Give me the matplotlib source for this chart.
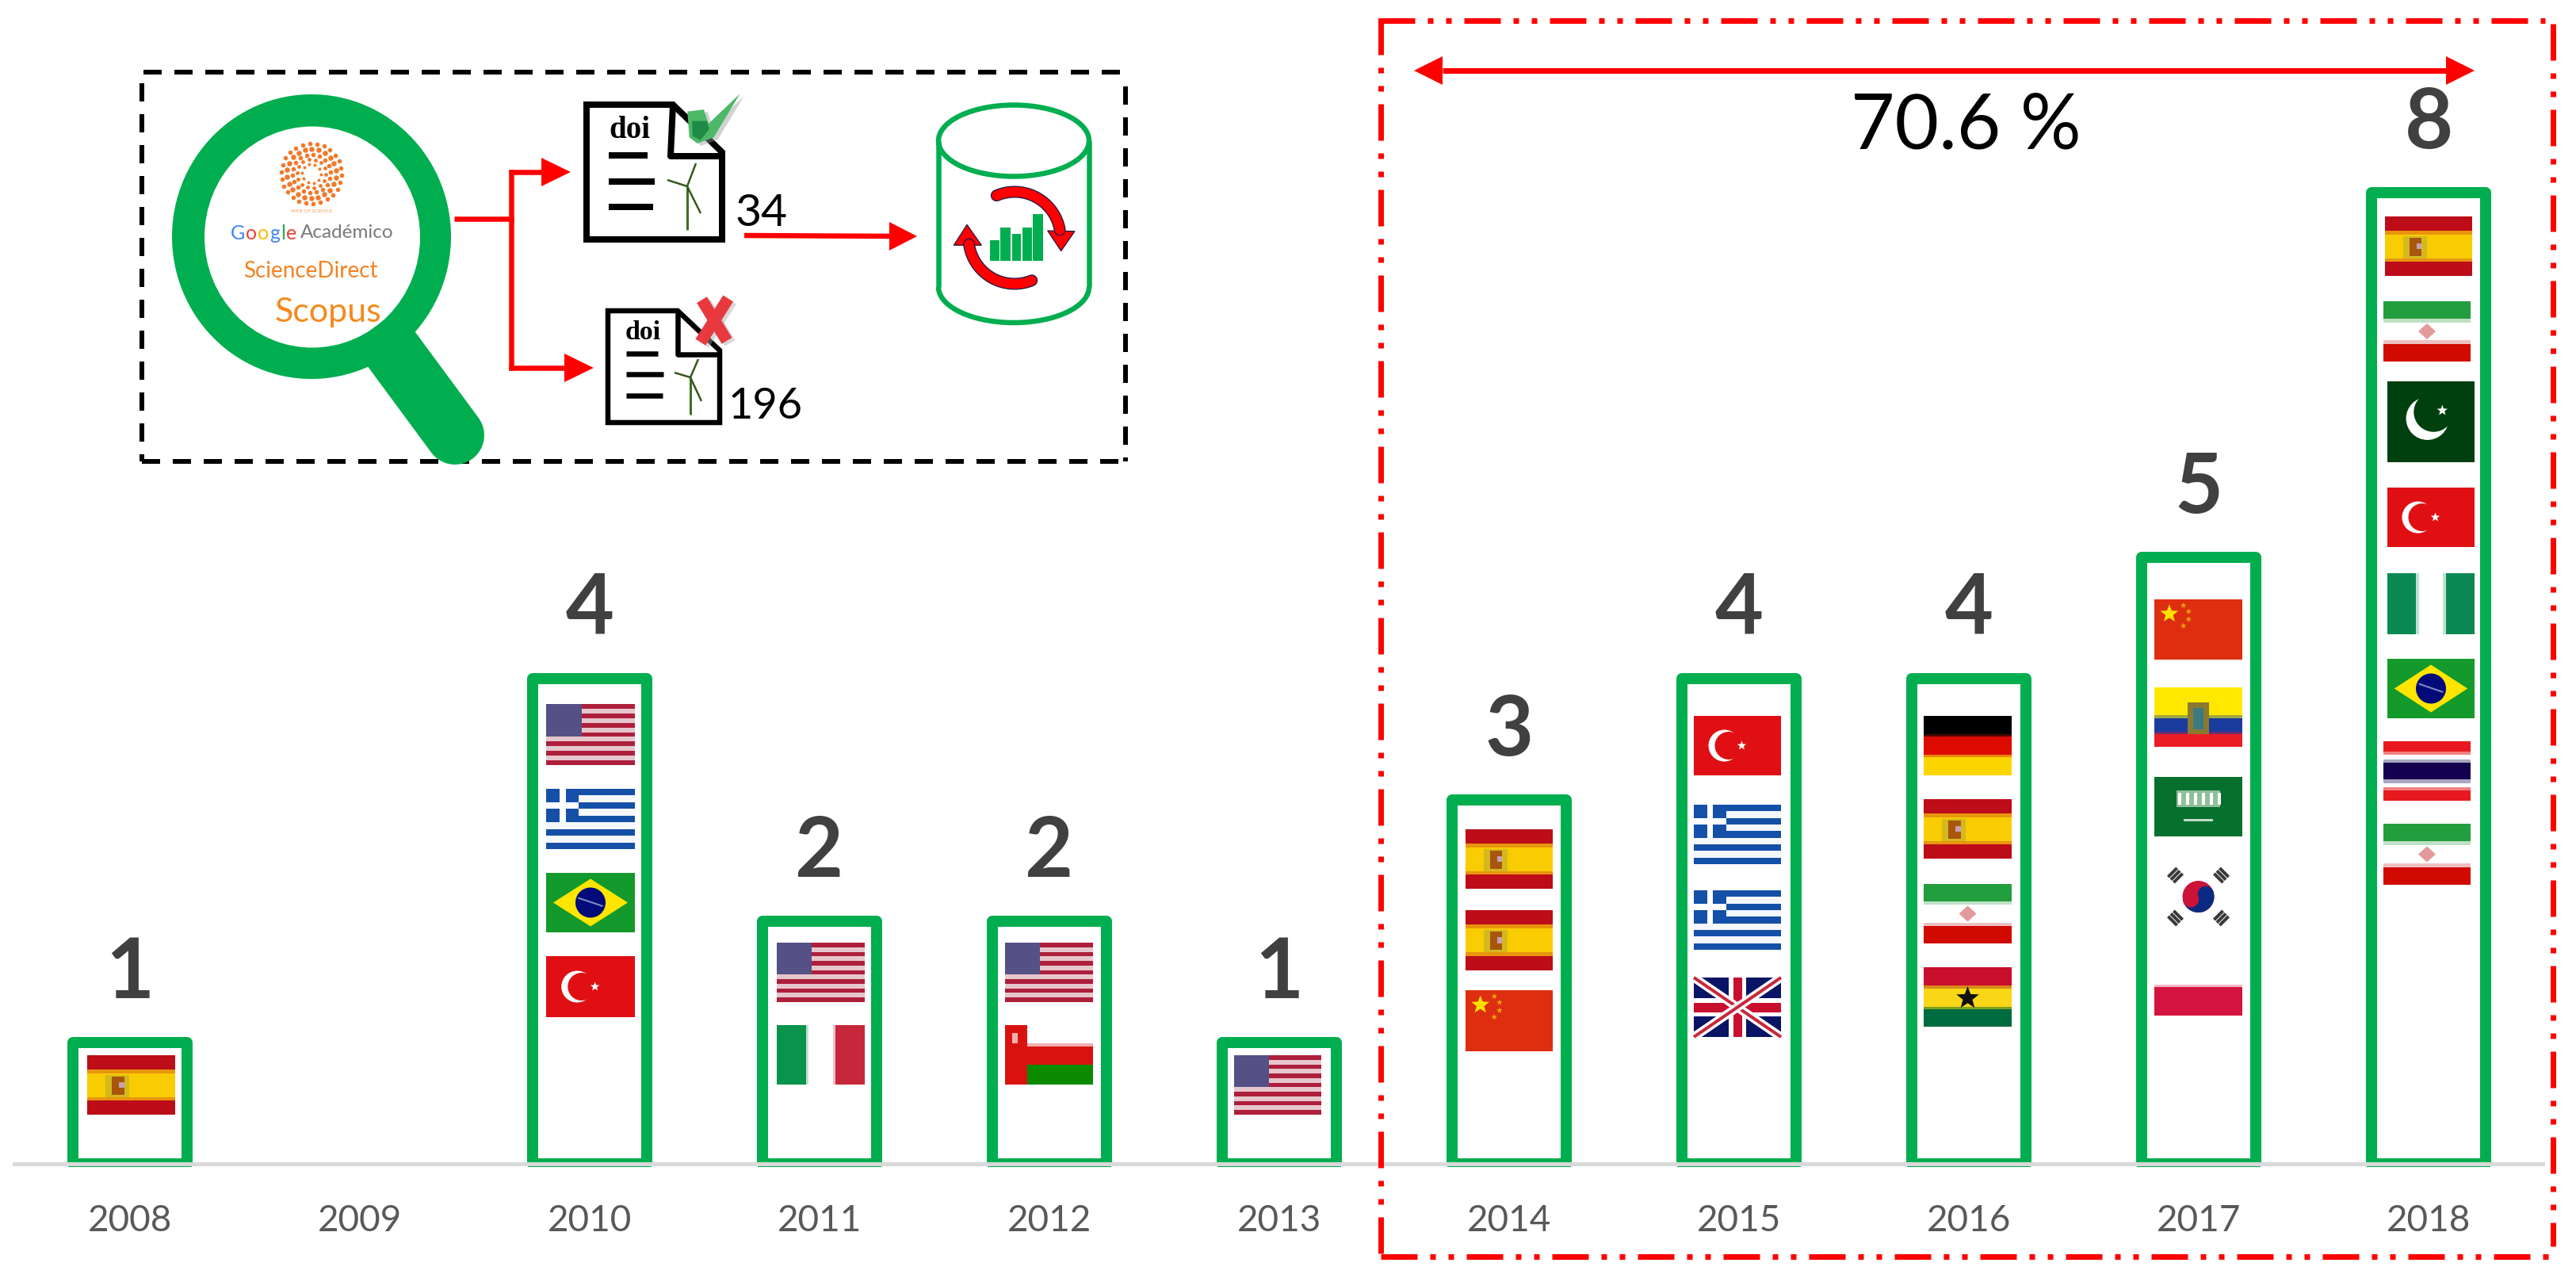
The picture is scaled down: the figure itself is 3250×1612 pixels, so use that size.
import numpy as np
import matplotlib
matplotlib.use("Agg")
import matplotlib.pyplot as plt
from matplotlib.patches import Rectangle, Ellipse, Polygon, Circle

W, H = 3250, 1612
plt.rcParams['font.family'] = ['Lato', 'DejaVu Sans']

# ---------- data ----------
years = ['2008', '2009', '2010', '2011', '2012', '2013', '2014', '2015', '2016', '2017', '2018']
counts = [1, 0, 4, 2, 2, 1, 3, 4, 4, 5, 8]
countries = [
    ['es'],
    [],
    ['us', 'gr', 'br', 'tr'],
    ['us', 'it'],
    ['us', 'om'],
    ['us'],
    ['es', 'es', 'cn'],
    ['tr', 'gr', 'gr', 'uk'],
    ['de', 'es', 'ir', 'gh'],
    ['cn', 'ec', 'sa', 'kr', 'pl'],
    ['es', 'ir', 'pk', 'tr', 'ng', 'br', 'th', 'ir'],
]
share_label = '70.6 %'
accepted_count = '34'
rejected_count = '196'

# ---------- layout of the pasted flag pictures (pixels) ----------
flag_x = [(110, 221), None, (689, 801), (980, 1091), (1268, 1379), (1557, 1667),
          (1849, 1959), (2137, 2247), (2427, 2538), (2718, 2829), (3012, 3122)]
flag_y = [
    [(1331, 1406)], [],
    [(888, 965), (995, 1071), (1101, 1176), (1206, 1283)],
    [(1189, 1264), (1293, 1368)],
    [(1189, 1264), (1293, 1368)],
    [(1331, 1406)],
    [(1046, 1121), (1148, 1224), (1249, 1326)],
    [(903, 978), (1015, 1090), (1123, 1198), (1233, 1308)],
    [(903, 978), (1008, 1083), (1115, 1190), (1220, 1295)],
    [(756, 832), (867, 942), (980, 1055), (1094, 1168), (1203, 1281)],
    [(273, 348), (380, 456), (481, 583), (615, 690), (723, 800), (831, 906), (935, 1010), (1039, 1116)],
]
flag_dx = {(10, 0): -3, (10, 1): -5, (10, 6): -5, (10, 7): -5}

GREEN = '#00AE4F'
RED = '#FF0000'
px = lambda v: v * 0.72

fig = plt.figure(figsize=(W / 100, H / 100), dpi=100, facecolor='white')

# ---------- the chart proper ----------
X0, X1, YB = 18, 3208, 1472
C0, STEP = 164, 290
BASE, UNIT = 1468, 153.1
ax = fig.add_axes([X0 / W, (H - YB) / H, (X1 - X0) / W, YB / H])
ax.set_xlim((X0 - C0) / STEP, (X1 - C0) / STEP)
ax.set_ylim((BASE - YB) / UNIT, BASE / UNIT)
ax.patch.set_alpha(0)
idx = [i for i, c in enumerate(counts) if c > 0]
ax.bar(idx, [counts[i] for i in idx], width=144.5 / STEP, facecolor='white',
       edgecolor=GREEN, linewidth=px(14), joinstyle='round', zorder=1)
for i in idx:
    ax.annotate(str(counts[i]), (i, counts[i]), xytext=(0, px(56)), textcoords='offset points',
                ha='center', va='baseline', fontsize=76, fontweight='bold', color='#404040')
for s in ['top', 'left', 'right']:
    ax.spines[s].set_visible(False)
sp = ax.spines['bottom']
sp.set_position(('data', 0))
sp.set_linewidth(px(5))
sp.set_color('#D9D9D9')
sp.set_zorder(3)
ax.set_yticks([])
ax.set_xticks(range(len(years)), years)
ax.tick_params(axis='x', length=0, pad=37, labelsize=33, labelcolor='#595959')

# ---------- overlay in reference pixels ----------
ov = fig.add_axes([0, 0, 1, 1])
ov.set_xlim(0, W)
ov.set_ylim(H, 0)
ov.axis('off')
ov.patch.set_alpha(0)


def line(xs, ys, color, lw, **kw):
    kw.setdefault('solid_capstyle', 'butt')
    ov.plot(xs, ys, color=color, lw=px(lw), **kw)


def poly(pts, color, **kw):
    ov.add_patch(Polygon(pts, closed=True, facecolor=color, edgecolor=kw.pop('edge', 'none'),
                         lw=kw.pop('elw', 0), **kw))


def rect(x0, y0, x1, y1, color, **kw):
    ov.add_patch(Rectangle((x0, y0), x1 - x0, y1 - y0, facecolor=color, edgecolor='none', lw=0, **kw))


def star(x, y, r, color):
    a = np.deg2rad(-90 + 36 * np.arange(10))
    rr = np.where(np.arange(10) % 2 == 0, r, r * 0.42)
    poly(np.c_[x + rr * np.cos(a), y + rr * np.sin(a)], color)


def flag(code, x0, y0, x1, y1):
    w, h = x1 - x0, y1 - y0

    def R(u0, v0, u1, v1, c):
        rect(x0 + u0 * w, y0 + v0 * h, x0 + u1 * w, y0 + v1 * h, c)

    def C(u, v, r, c):
        ov.add_patch(Circle((x0 + u * w, y0 + v * h), r, facecolor=c, edgecolor='none'))

    def bands(edges, cols):
        for a, b, c in zip(edges[:-1], edges[1:], cols):
            R(0, a, 1, b, c)

    if code == 'es':
        bands([0, .24, .3, .7, .76, 1], ['#BC0D18', '#E8950E', '#F9CC02', '#E8950E', '#BC0D18'])
        R(.21, .33, .48, .7, '#D4B91E')
        R(.28, .36, .42, .66, '#A8560E')
        R(.36, .45, .42, .55, '#C8A0B0')
    elif code == 'ir':
        bands([0, .29, .35, .65, .71, 1], ['#229E3F', '#BFE0C5', '#FFFFFF', '#EEC0C0', '#D00A00'])
        poly([(x0 + .5 * w - 11, y0 + .5 * h), (x0 + .5 * w, y0 + .5 * h - 10),
              (x0 + .5 * w + 11, y0 + .5 * h), (x0 + .5 * w, y0 + .5 * h + 10)], '#E39A9A')
    elif code == 'pk':
        R(0, 0, 1, 1, '#00400E')
        C(.46, .46, 27, '#FFFFFF')
        C(.53, .38, 25, '#00400E')
        star(x0 + .63 * w, y0 + .36 * h, 7, '#FFFFFF')
    elif code == 'tr':
        R(0, 0, 1, 1, '#E00F13')
        C(.35, .5, 20, '#FFFFFF')
        C(.40, .5, 17.5, '#E00F13')
        star(x0 + .55 * w, y0 + .5 * h, 6, '#FFFFFF')
    elif code == 'ng':
        R(0, 0, .33, 1, '#0A8A52')
        R(.33, 0, .36, 1, '#BFE0D0')
        R(.64, 0, .67, 1, '#BFE0D0')
        R(.67, 0, 1, 1, '#0A8A52')
    elif code == 'it':
        R(0, 0, .33, 1, '#09934B')
        R(.33, 0, .36, 1, '#BFE0D0')
        R(.64, 0, .67, 1, '#EEC0C6')
        R(.67, 0, 1, 1, '#C8273A')
    elif code == 'br':
        R(0, 0, 1, 1, '#149A2C')
        poly([(x0 + .08 * w, y0 + .5 * h), (x0 + .5 * w, y0 + .1 * h),
              (x0 + .92 * w, y0 + .5 * h), (x0 + .5 * w, y0 + .9 * h)], '#FFE500')
        C(.5, .5, 19, '#000A78')
        line([x0 + .36 * w, x0 + .64 * w], [y0 + .42 * h, y0 + .56 * h], '#7F8FC8', 2)
    elif code == 'th':
        bands([0, .17, .23, .3, .36, .64, .7, .77, .83, 1],
              ['#E8191E', '#F08080', '#FFFFFF', '#AAA6C0', '#14004F', '#AAA6C0', '#FFFFFF', '#F08080', '#E8191E'])
    elif code == 'us':
        for k in range(13):
            R(0, k / 13, 1, (k + 1) / 13, '#AE1F3C' if k % 2 == 0 else '#E6C6CC')
        R(0, 0, .4, 7 / 13, '#555085')
    elif code == 'gr':
        for k in range(9):
            R(0, k / 9, 1, (k + 1) / 9, '#1450A8' if k % 2 == 0 else '#F4F7FC')
        R(0, 0, .37, 5 / 9, '#1450A8')
        R(.15, 0, .22, 5 / 9, '#FFFFFF')
        R(0, 2 / 9, .37, 3 / 9, '#FFFFFF')
    elif code == 'uk':
        R(0, 0, 1, 1, '#0A1464')
        clip = Rectangle((x0, y0), w, h, transform=ov.transData)
        for a, b, c, d in [(0, 0, 1, 1), (0, 1, 1, 0)]:
            line([x0 + a * w, x0 + c * w], [y0 + b * h, y0 + d * h], 'white', 11, clip_path=clip)
            line([x0 + a * w, x0 + c * w], [y0 + b * h, y0 + d * h], '#C8283C', 4, clip_path=clip)
        R(.4, 0, .6, 1, '#FFFFFF')
        R(0, .35, 1, .65, '#FFFFFF')
        R(.45, 0, .55, 1, '#C8102E')
        R(0, .42, 1, .58, '#C8102E')
    elif code == 'de':
        bands([0, .3, .35, .65, .69, 1], ['#000000', '#4A0500', '#DD0A00', '#E88A00', '#FBD500'])
    elif code == 'gh':
        bands([0, .3, .36, .66, .71, 1], ['#C8102E', '#D88A1A', '#F9D616', '#7FA020', '#006B3F'])
        star(x0 + .5 * w, y0 + .52 * h, 15, '#101010')
    elif code == 'cn':
        R(0, 0, 1, 1, '#DE2E10')
        star(x0 + .17 * w, y0 + .24 * h, 12, '#FFE000')
        for u, v in [(.33, .1), (.39, .2), (.39, .33), (.33, .44)]:
            star(x0 + u * w, y0 + v * h, 4, '#F0A010')
    elif code == 'ec':
        bands([0, .47, .52, .74, .78, 1], ['#FFE800', '#A0A840', '#1A3C9E', '#6A3070', '#EC1C24'])
        R(.38, .25, .62, .78, '#8A7A30')
        R(.44, .35, .56, .7, '#3C7A80')
    elif code == 'sa':
        R(0, 0, 1, 1, '#06702F')
        R(.25, .23, .75, .5, '#8FBF9C')
        for u in np.arange(.27, .73, .09):
            R(u, .27, u + .04, .46, '#FFFFFF')
        R(.33, .7, .67, .75, '#BFDCC6')
    elif code == 'kr':
        cx, cy, r = x0 + .5 * w, y0 + .5 * h, 20
        ov.add_patch(Circle((cx, cy), r, facecolor='#CC1238', edgecolor='none'))
        th = np.linspace(np.deg2rad(-20), np.deg2rad(160), 60)
        poly(np.c_[cx + r * np.cos(th), cy + r * np.sin(th)], '#0A2A80')
        ca, sa_ = np.cos(np.deg2rad(160)), np.sin(np.deg2rad(160))
        ov.add_patch(Circle((cx + .5 * r * ca, cy + .5 * r * sa_), .5 * r, facecolor='#CC1238', edgecolor='none'))
        ov.add_patch(Circle((cx - .5 * r * ca, cy - .5 * r * sa_), .5 * r, facecolor='#0A2A80', edgecolor='none'))
        for sx in (-1, 1):
            for sy in (-1, 1):
                mx, my = cx + sx * 29, cy + sy * 27
                for k in (-1, 0, 1):
                    qx, qy = mx + k * 5 * .7 * sx, my + k * 5 * .7 * sy
                    line([qx - 8 * .7 * sy, qx + 8 * .7 * sy], [qy + 8 * .7 * sx, qy - 8 * .7 * sx], '#3A3A3A', 4)
    elif code == 'pl':
        bands([.5, .54, 1], ['#F0B8C4', '#D4143F'])
    elif code == 'om':
        R(0, 0, 1, 1, '#D8130F')
        R(.25, 0, 1, .3, '#FFFFFF')
        R(.25, .3, 1, .36, '#EEB0B0')
        R(.25, .66, 1, 1, '#0A8A00')
        R(.08, .13, .14, .3, '#F0B0B0')


for i, codes in enumerate(countries):
    for k, code in enumerate(codes):
        xa, xb = flag_x[i]
        dx = flag_dx.get((i, k), 0)
        ya, yb = flag_y[i][k]
        flag(code, xa + dx, ya, xb + dx, yb)

# ---------- red highlight box and arrow ----------
red_dash = (0, (46 / 7, 16 / 7, 1, 16 / 7, 1, 16 / 7))
line([1739, 3211], [26, 26], RED, 7, linestyle=red_dash, dash_capstyle='butt')
line([1742, 1742], [23, 1585], RED, 7, linestyle=red_dash, dash_capstyle='butt')
line([3221, 3221], [30, 1572], RED, 7, linestyle=red_dash, dash_capstyle='butt')
line([1742, 3221], [1585, 1585], RED, 7, linestyle=red_dash, dash_capstyle='butt')
line([1820, 3086], [89, 89], RED, 7)
poly([(1784, 89), (1820, 71), (1820, 107)], RED)
poly([(3122, 89), (3086, 71), (3086, 107)], RED)
ov.text(2480, 187, share_label, ha='center', va='baseline', fontsize=69, color='black')

# ---------- black dashed box ----------
blk = (0, (23 / 6, 16 / 6))
for xs, ys in [([181, 1420], [91, 91]), ([179, 1420], [582, 582]),
               ([179, 179], [105, 582]), ([1420, 1420], [109, 582])]:
    line(xs, ys, 'black', 6, linestyle=blk, dash_capstyle='butt')

# ---------- magnifier ----------
line([495, 574], [442, 549], GREEN, 74, solid_capstyle='round')
ov.add_patch(Ellipse((393, 298.5), 352, 359, facecolor=GREEN, edgecolor='none'))
ov.add_patch(Ellipse((394, 299), 272, 279, facecolor='white', edgecolor='none'))

for r, n, s in [(12, 10, 8), (18, 14, 12), (24, 18, 16), (31, 22, 22), (38, 26, 16)]:
    a = np.linspace(0, 2 * np.pi, n, endpoint=False) + r
    ov.scatter(393 + r * np.cos(a), 219 + r * np.sin(a), s=s, color='#F0792B', linewidths=0)
ov.text(393, 266, 'WEB OF SCIENCE', ha='center', va='center', fontsize=4.6, color='#F0A060')

renderer = fig.canvas.get_renderer()
cur = 291
for ch, c in zip('Google', ['#4285F4', '#EA4335', '#FBBC05', '#4285F4', '#34A853', '#EA4335']):
    t = ov.text(cur, 294, ch, ha='left', va='center', fontsize=18, color=c)
    cur = t.get_window_extent(renderer).x1 + 1
ov.text(cur + 3, 294, 'Académico', ha='left', va='center', fontsize=17.5, color='#7A7A7A')
ov.text(392, 342, 'ScienceDirect', ha='center', va='center', fontsize=20, color='#F58220')
ov.text(414, 394, 'Scopus', ha='center', va='center', fontsize=31, color='#F58A1F')


# ---------- document icons ----------
def doc(x0, y0, x1, y1, xc, yc, xf, yf, lw, doi_xy, doi_fs, rows, rlw, hub, pole_y, tips):
    poly([(x0, y0), (xc, y0), (x1, yc), (x1, y1), (x0, y1)], 'white', edge='black', elw=px(lw), joinstyle='miter')
    line([xc, xf, x1], [y0, yf, yf], 'black', lw)
    ov.text(doi_xy[0], doi_xy[1], 'doi', ha='center', va='center', fontsize=doi_fs, fontweight='bold',
            family='Liberation Serif', color='black')
    for a, b, y in rows:
        line([a, b], [y, y], 'black', rlw)
    line([hub[0], hub[0]], [hub[1], pole_y], '#3F6E22', 3)
    for tx, ty in tips:
        line([hub[0], tx], [hub[1], ty], '#34591E', 2.5)


doc(740, 132, 911, 302, 849, 192, 846, 197, 8, (794, 165), 28,
    [(768, 817, 196), (768, 826, 229), (768, 824, 261)], 8, (867, 235), 290,
    [(878, 206), (842, 227), (884, 269)])
doc(767, 392, 908, 533, 855, 442, 855, 447, 6.5, (811, 420), 24.5,
    [(790, 830, 446), (790, 837, 472), (790, 836, 499)], 6.5, (871, 476), 523,
    [(881, 453), (851, 470), (885, 506)])

toz = lambda pts: [(150 + a / 1.206, 70 + b / 2.904) for a, b in pts]
chk = [(865, 205), (890, 198), (897, 250), (945, 140), (905, 300), (880, 322), (868, 300)]
poly([(x + 5, y + 3) for x, y in toz(chk)], '#999999', alpha=.45)
poly(toz(chk), '#4CB868')
poly(toz([(872, 240), (895, 240), (898, 270), (885, 310), (873, 295)]), '#1E8A45')

for p, q in [((887, 895), (925, 1045)), ((927, 890), (885, 1050))]:
    (a, b), (c, d) = toz([p, q])
    line([a + 4, c + 4], [b + 3, d + 3], '#AAAAAA', 15, alpha=.45)
for p, q in [((887, 895), (925, 1045)), ((927, 890), (885, 1050))]:
    (a, b), (c, d) = toz([p, q])
    line([a, c], [b, d], '#E8393F', 15)

ov.text(961, 285, accepted_count, ha='center', va='baseline', fontsize=41, color='black')
ov.text(966, 528, rejected_count, ha='center', va='baseline', fontsize=39, color='black')

# ---------- connectors ----------
line([573, 648], [276, 276], RED, 6.5)
line([645, 645], [214, 467], RED, 6.5)
line([642, 690], [217, 217], RED, 6.5)
line([642, 720], [464, 464], RED, 6.5)
poly([(720, 217), (683, 199), (683, 235)], RED)
poly([(749, 464), (712, 446), (712, 482)], RED)
line([939, 1130], [297, 298], RED, 6.5)
poly([(1157, 298), (1122, 280), (1122, 316)], RED)

# ---------- database cylinder ----------
cx, rx, ry = 1279, 95, 45
th = np.linspace(0, np.pi, 80)
line(cx + rx * np.cos(th), 362 + ry * np.sin(th), GREEN, 6.5)
line([cx - rx, cx - rx], [178, 362], GREEN, 6.5)
line([cx + rx, cx + rx], [178, 362], GREEN, 6.5)
ov.add_patch(Ellipse((cx, 177.5), 2 * rx, 2 * ry, facecolor='none', edgecolor=GREEN, lw=px(6.5)))

z = lambda a, b: (1150 + a / 3, 120 + b / 3)
for a, b, top in [(298, 332, 550), (337, 375, 500), (381, 415, 525), (420, 455, 500), (460, 497, 450)]:
    (p, q), (r_, s_) = z(a, top), z(b, 627)
    rect(p, q, r_, s_, GREEN)

for t0, t1, head in [(113, 10, [(515, 513), (618, 515), (566, 590)]),
                     (-68, -172, [(160, 568), (265, 568), (210, 490)])]:
    th = np.deg2rad(np.linspace(t0, t1, 60))
    xs, ys = 1280 + 58 * np.cos(th), 300 - 58 * np.sin(th)
    line(xs, ys, '#1A1A4A', 15, solid_capstyle='round')
    line(xs, ys, RED, 12.5, solid_capstyle='round')
    poly([z(a, b) for a, b in head], RED, edge='#1A1A4A', elw=px(1.2))

fig.savefig('out.png', dpi=100, facecolor='white')
